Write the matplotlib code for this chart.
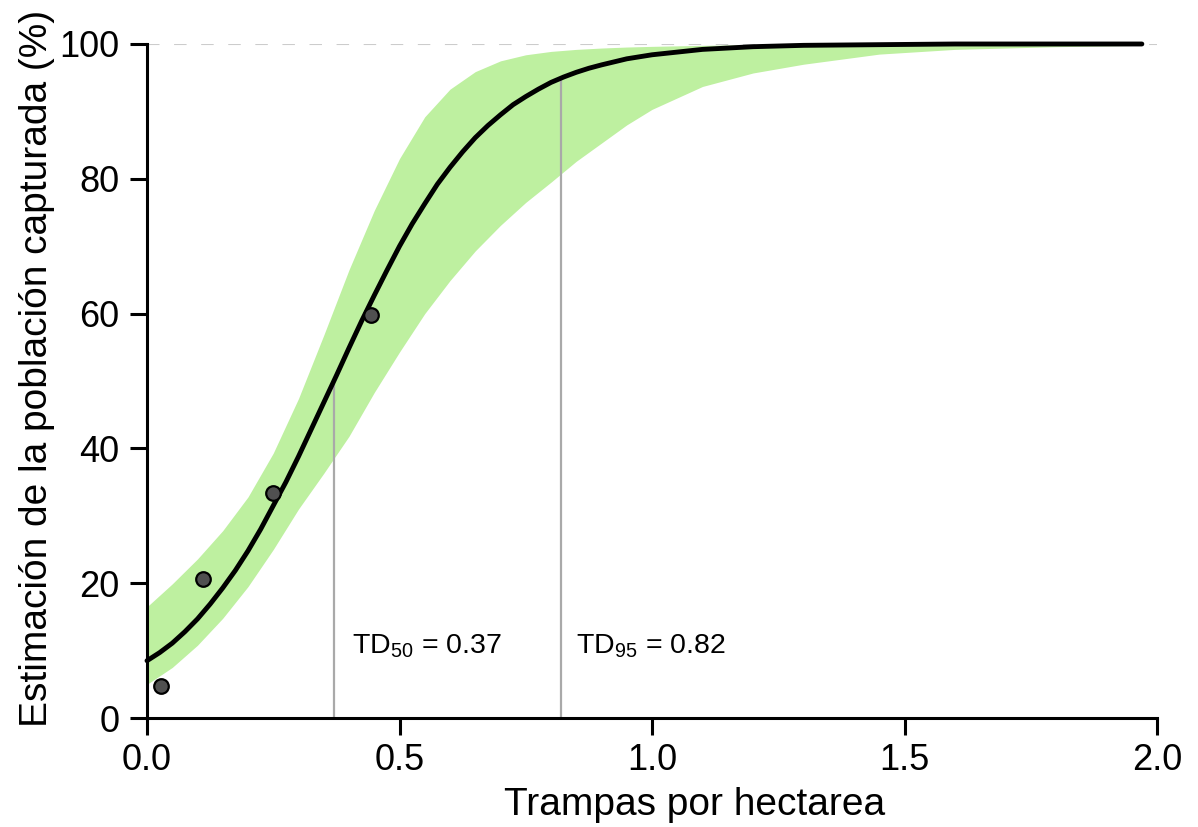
import matplotlib
matplotlib.use("Agg")
import matplotlib.pyplot as plt

# values
fit_x = [0.000, 0.025, 0.050, 0.075, 0.100, 0.125, 0.150, 0.175, 0.200, 0.225, 0.250, 0.275,
         0.300, 0.325, 0.350, 0.375, 0.400, 0.425, 0.450, 0.475, 0.500, 0.525, 0.550, 0.575,
         0.600, 0.625, 0.650, 0.675, 0.700, 0.725, 0.750, 0.775, 0.800, 0.825, 0.850, 0.875,
         0.900, 0.950, 1.000, 1.100, 1.200, 1.300, 1.450, 1.600, 1.800, 1.970]
fit_pct = [8.5, 9.7, 11.1, 12.8, 14.7, 16.9, 19.3, 21.9, 24.8, 28.0, 31.5, 35.0,
           38.8, 42.8, 46.8, 50.8, 54.9, 58.9, 62.7, 66.4, 70.0, 73.3, 76.3, 79.2,
           81.7, 84.0, 86.1, 87.9, 89.5, 91.0, 92.2, 93.3, 94.3, 95.1, 95.8, 96.4,
           96.9, 97.8, 98.4, 99.2, 99.6, 99.8, 99.9, 100, 100, 100]

band_x = [0.00, 0.05, 0.10, 0.15, 0.20, 0.25, 0.30, 0.35, 0.40, 0.45, 0.50, 0.55, 0.60, 0.65,
          0.70, 0.75, 0.80, 0.85, 0.90, 0.95, 1.00, 1.10, 1.20, 1.30, 1.45, 1.60, 1.80, 1.97]
upper_pct = [16.5, 19.9, 23.6, 27.8, 32.8, 39.3, 47.4, 56.8, 66.5, 75.3, 83.0, 89.2, 93.3, 95.9,
             97.5, 98.4, 98.9, 99.2, 99.4, 99.55, 99.65, 99.8, 99.9, 99.95, 100, 100, 100, 100]
lower_pct = [5.0, 7.5, 10.8, 14.8, 19.5, 25.0, 31.0, 36.3, 41.8, 48.3, 54.3, 60.0, 64.9, 69.3,
             73.1, 76.5, 79.5, 82.6, 85.3, 88.0, 90.3, 93.7, 95.7, 97.0, 98.5, 99.2, 99.6, 99.8]

obs_x = [0.028, 0.111, 0.249, 0.443]
obs_pct = [4.7, 20.6, 33.4, 59.8]

td_x = [0.37, 0.82]
td_pct = [50, 95]
td_labels = [r"$\mathregular{TD_{50}}$ = 0.37", r"$\mathregular{TD_{95}}$ = 0.82"]
td_text_x = [0.405, 0.849]

plt.rcParams["font.family"] = ["Liberation Sans", "DejaVu Sans"]

fig = plt.figure(figsize=(11.98, 8.27), dpi=100)
ax = fig.add_axes([0.1227, 0.1318, 0.8431, 0.815])

ax.axhline(100, color="#cccccc", lw=1.5, dashes=(6, 7), zorder=0)
ax.fill_between(band_x, lower_pct, upper_pct, color="#bef0a0", lw=0, zorder=1)
for x, p in zip(td_x, td_pct):
    ax.vlines(x, 0, p, color="#a9a9a9", lw=1.6, zorder=2)
ax.plot(fit_x, fit_pct, color="black", lw=3.5, zorder=3, clip_on=False,
        solid_capstyle="round", solid_joinstyle="round")
ax.plot(obs_x, obs_pct, "o", ms=10.5, mfc="#505050", mec="black", mew=1.6, zorder=4)

for tx, lab in zip(td_text_x, td_labels):
    ax.text(tx, 9.6, lab, fontsize=20.5, va="baseline", ha="left")

ax.set_xlim(0, 2.0)
ax.set_ylim(0, 100)
ax.set_xticks([0.0, 0.5, 1.0, 1.5, 2.0])
ax.set_xticklabels(["0.0", "0.5", "1.0", "1.5", "2.0"])
ax.set_yticks([0, 20, 40, 60, 80, 100])

ax.spines["top"].set_visible(False)
ax.spines["right"].set_visible(False)
for side in ("left", "bottom"):
    ax.spines[side].set_linewidth(2.2)
ax.tick_params(direction="out", length=12, width=2.2, labelsize=26)
ax.tick_params(axis="x", pad=6)
ax.tick_params(axis="y", pad=8)

ax.set_xlabel("Trampas por hectarea", fontsize=28)
ax.xaxis.set_label_coords(0.542, -0.102)
ax.set_ylabel("Estimación de la población capturada (%)", fontsize=28)
ax.yaxis.set_label_coords(-0.091, 0.519)

fig.savefig("out.png", dpi=100)
